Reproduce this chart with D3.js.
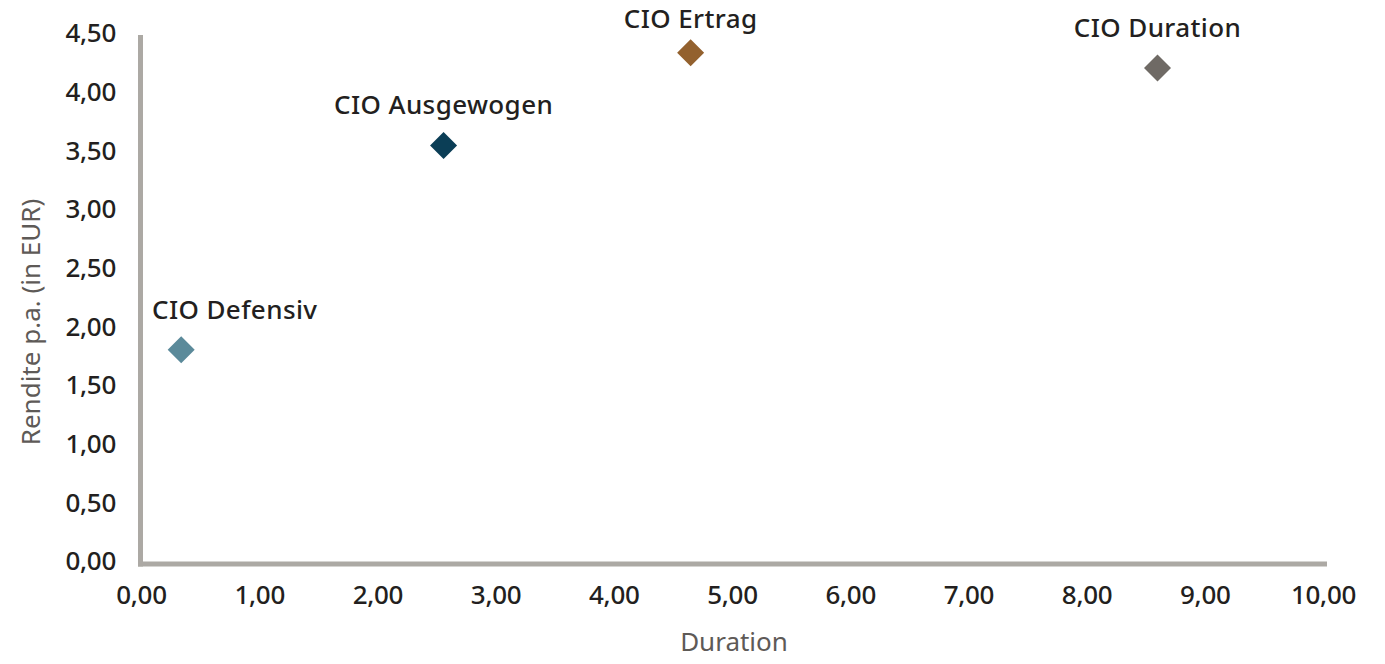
<!DOCTYPE html>
<html><head><meta charset="utf-8">
<script src="https://cdn.jsdelivr.net/npm/d3@7"></script>
<style>
html,body{margin:0;padding:0;background:#fff;}
svg text{font-family:"Noto Sans",sans-serif;}
</style></head>
<body><svg id="c" width="1385" height="664"></svg>
<script>
const names = ["CIO Defensiv","CIO Ausgewogen","CIO Ertrag","CIO Duration"];
const duration = [0.34, 2.56, 4.65, 8.60];
const rendite = [1.81, 3.55, 4.34, 4.21];
const colors = ["#5b8a9a","#0b3e56","#93612e","#6f6a65"];
const xTicks = [0,1,2,3,4,5,6,7,8,9,10];
const yTicks = [0,0.5,1,1.5,2,2.5,3,3.5,4,4.5];
const xTitle = "Duration";
const yTitle = "Rendite p.a. (in EUR)";

const svg = d3.select("#c");
const x = d3.scaleLinear().domain([0,10]).range([141,1323]);
const y = d3.scaleLinear().domain([0,4.5]).range([562,34]);
const fmt = v => d3.format(".2f")(v).replace(".", ",");
const axisCol = "#aca9a4", txtCol = "#231f20", titleCol = "#5e5a57";

// axes lines
svg.append("line").attr("x1",140.5).attr("x2",140.5).attr("y1",35).attr("y2",566.5)
  .attr("stroke",axisCol).attr("stroke-width",5);
svg.append("line").attr("x1",138).attr("x2",1327).attr("y1",564).attr("y2",564)
  .attr("stroke",axisCol).attr("stroke-width",5);

// x ticks via axis
const gx = svg.append("g").attr("transform","translate(0,586)")
  .call(d3.axisBottom(x).tickValues(xTicks).tickFormat(fmt).tickSize(0).tickPadding(0));
gx.select(".domain").remove();
gx.selectAll("text").attr("font-size",26).attr("fill",txtCol).attr("dy","0.71em")
  .attr("font-family","'Noto Sans',sans-serif").attr("font-weight",500).attr("letter-spacing",-0.3);

const gy = svg.append("g").attr("transform","translate(116,0)")
  .call(d3.axisLeft(y).tickValues(yTicks).tickFormat(fmt).tickSize(0).tickPadding(0));
gy.select(".domain").remove();
gy.selectAll("text").attr("font-size",26).attr("fill",txtCol).attr("dy","0.30em")
  .attr("font-family","'Noto Sans',sans-serif").attr("font-weight",500).attr("letter-spacing",-0.3);

// titles
svg.append("text").attr("x",734).attr("y",651).attr("text-anchor","middle")
  .attr("font-size",26).attr("fill",titleCol).text(xTitle);
svg.append("text").attr("transform","translate(40,322) rotate(-90)").attr("text-anchor","middle")
  .attr("font-size",26).attr("fill",titleCol).text(yTitle);

// points
const data = names.map((n,i)=>({n, d:duration[i], r:rendite[i], c:colors[i]}));
const h = 13.5;
svg.selectAll("path.pt").data(data).enter().append("path").attr("class","pt")
  .attr("d", d => {const cx=x(d.d), cy=y(d.r); return `M${cx},${cy-h}L${cx+h},${cy}L${cx},${cy+h}L${cx-h},${cy}Z`;})
  .attr("fill", d=>d.c);

// labels
svg.selectAll("text.lb").data(data).enter().append("text").attr("class","lb")
  .attr("font-size",26).attr("fill",txtCol).attr("font-weight",500).attr("letter-spacing",0.4)
  .attr("text-anchor","middle").text(d=>d.n)
  .each(function(d){
    const w = this.getComputedTextLength();
    const cx = Math.max(x(d.d), x(0) + 11 + w/2);
    const by = Math.max(y(d.r) - 31, 28);
    d3.select(this).attr("x",cx).attr("y",by);
  });
</script></body></html>
